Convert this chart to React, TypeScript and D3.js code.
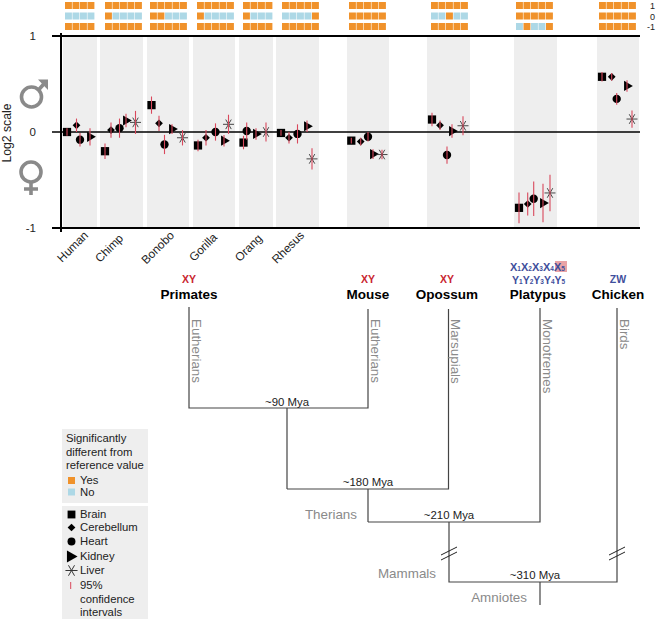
import React from "react";
import * as d3 from "d3";

const species = ["Human", "Chimp", "Bonobo", "Gorilla", "Orang", "Rhesus", "Mouse", "Opossum", "Platypus", "Chicken"];
const tissues = ["Brain", "Cerebellum", "Heart", "Kidney", "Liver"];

// value, horizontal placement, half width of the 95% CI, per species, ordered as tissueOrder
const humanTissues = [0, 1, 2, 3];
const humanValues = [0.0, 0.07, -0.08, -0.05];
const humanPos = [67, 76.5, 80, 90];
const humanCi = [0.04, 0.07, 0.07, 0.09];

const chimpTissues = [0, 1, 2, 3, 4];
const chimpValues = [-0.2, 0.02, 0.04, 0.12, 0.1];
const chimpPos = [105, 111, 119.5, 126, 135.5];
const chimpCi = [0.08, 0.08, 0.1, 0.07, 0.12];

const bonoboTissues = [0, 1, 2, 3, 4];
const bonoboValues = [0.28, 0.09, -0.13, 0.03, -0.06];
const bonoboPos = [151.5, 159, 164.5, 172, 182.5];
const bonoboCi = [0.09, 0.08, 0.1, 0.05, 0.08];

const gorillaTissues = [0, 1, 2, 3, 4];
const gorillaValues = [-0.14, -0.06, 0.0, -0.09, 0.08];
const gorillaPos = [198, 206, 215.5, 224, 228.5];
const gorillaCi = [0.06, 0.08, 0.09, 0.06, 0.1];

const orangTissues = [0, 2, 3, 4];
const orangValues = [-0.11, 0.01, -0.02, 0.0];
const orangPos = [243.5, 246.7, 256, 266];
const orangCi = [0.07, 0.09, 0.06, 0.1];

const rhesusTissues = [0, 1, 2, 3, 4];
const rhesusValues = [-0.01, -0.06, -0.02, 0.06, -0.28];
const rhesusPos = [281, 289, 297.5, 307, 312];
const rhesusCi = [0.03, 0.06, 0.1, 0.06, 0.11];

const mouseTissues = [0, 1, 2, 3, 4];
const mouseValues = [-0.09, -0.1, -0.05, -0.23, -0.235];
const mousePos = [351.3, 360.7, 368, 373, 382];
const mouseCi = [0.03, 0.04, 0.05, 0.05, 0.05];

const opossumTissues = [0, 1, 2, 3, 4];
const opossumValues = [0.13, 0.07, -0.24, 0.01, 0.065];
const opossumPos = [432, 440, 447, 452, 463];
const opossumCi = [0.07, 0.05, 0.09, 0.07, 0.1];

const platypusTissues = [0, 1, 2, 3, 4];
const platypusValues = [-0.79, -0.75, -0.695, -0.74, -0.635];
const platypusPos = [519, 527.7, 533.7, 543, 550];
const platypusCi = [0.16, 0.12, 0.18, 0.2, 0.19];

const chickenTissues = [0, 1, 2, 3, 4];
const chickenValues = [0.575, 0.575, 0.345, 0.48, 0.135];
const chickenPos = [602, 611.7, 616.7, 627, 632];
const chickenCi = [0.05, 0.04, 0.06, 0.06, 0.09];

const tissueRows = [humanTissues, chimpTissues, bonoboTissues, gorillaTissues, orangTissues, rhesusTissues, mouseTissues, opossumTissues, platypusTissues, chickenTissues];
const valueRows = [humanValues, chimpValues, bonoboValues, gorillaValues, orangValues, rhesusValues, mouseValues, opossumValues, platypusValues, chickenValues];
const posRows = [humanPos, chimpPos, bonoboPos, gorillaPos, orangPos, rhesusPos, mousePos, opossumPos, platypusPos, chickenPos];
const ciRows = [humanCi, chimpCi, bonoboCi, gorillaCi, orangCi, rhesusCi, mouseCi, opossumCi, platypusCi, chickenCi];

// significance strips: Y = different from reference, N = not
const sigAtOne = ["YYYY", "YYYYY", "YYYYY", "YYYYY", "YYYY", "YYYYY", "YYYYY", "YYYYY", "YYYYY", "YYYYY"];
const sigAtZero = ["NNNN", "YNNNN", "YYNNN", "YNNNN", "YNNN", "NNNNY", "YYYYY", "NNYNN", "YYYYY", "YYYYY"];
const sigAtMinusOne = ["YYYY", "YYYYY", "YYYYY", "YYYYY", "YYYY", "YYYYY", "YYYYY", "YYYYY", "NYNNY", "YYYYY"];
const sigRows = [sigAtOne, sigAtZero, sigAtMinusOne];
const sigTop = [2, 12.5, 23];
const sigLeft = [65, 105, 150, 197, 243, 282, 349, 431, 516, 599];

const panelLeft = [63, 100, 147, 193, 239, 276, 347, 427, 514, 597];
const panelRight = [97, 143, 189, 235, 273, 319, 389, 470, 557, 639];
const speciesLabelEnd = [89, 124, 175, 218, 263, 305];
const speciesLabelBase = [236, 239, 236, 238, 239, 236];

const yTicks = [1, 0, -1];

const ORANGE = "#f0922b";
const BLUE = "#add8e6";
const RED = "#d9485c";
const GREY = "#8a8a8a";
const PANEL = "#eeeeee";
const FONT = "'Liberation Sans', Arial, sans-serif";

const y = d3.scaleLinear().domain([-1, 1]).range([228, 36]);
const x = d3.scaleLinear().domain([0, 656]).range([0, 656]);

const symbolPaths = [
  d3.symbol(d3.symbolSquare, 68)()!,
  d3.symbol(d3.symbolDiamond2, 38)()!,
  d3.symbol(d3.symbolCircle, 55)()!,
  d3.symbol(d3.symbolTriangle, 45)()!,
  d3.symbol(d3.symbolAsterisk, 85)()!,
];

function Marker({ t, cx, cy, scale = 1 }: { t: number; cx: number; cy: number; scale?: number }) {
  const rot = t === 3 || t === 4 ? 90 : 0;
  const transform = `translate(${cx},${cy}) rotate(${rot}) scale(${scale})`;
  if (t === 4) return <path d={symbolPaths[4]} transform={transform} fill="none" stroke="#333" strokeWidth={0.9} />;
  return <path d={symbolPaths[t]} transform={transform} fill="#000" />;
}

const line = d3.line();

const treeBranches: [number, number][][] = [
  [[189, 307], [189, 408], [368, 408], [368, 309]],
  [[287, 408], [287, 489]],
  [[287, 489], [448.5, 489], [448.5, 309]],
  [[368, 489], [368, 522]],
  [[368, 522], [540, 522], [540, 308]],
  [[449, 522], [449, 582], [617, 582], [617, 308]],
  [[540, 582], [540, 605]],
];
const breakMarks: [number, number][][] = [
  [[441, 555], [457, 547]],
  [[441, 560], [457, 552]],
  [[609, 555], [625, 547]],
  [[609, 560], [625, 552]],
];

const cladeNames = ["Primates", "Mouse", "Opossum", "Platypus", "Chicken"];
const cladeCentres = [189, 368, 447, 538, 618];
const chromosomeLabels = ["XY", "XY", "XY", "", "ZW"];
const chromosomeColors = ["#c9252f", "#c9252f", "#c9252f", "", "#3f4f9c"];

const branchNames = ["Eutherians", "Eutherians", "Marsupials", "Monotremes", "Birds"];
const branchX = [192, 371, 451, 543, 619.5];

const dateLabels = ["~90 Mya", "~180 Mya", "~210 Mya", "~310 Mya"];
const dateX = [287, 368, 449, 535];
const dateY = [405.5, 486, 519, 579];

const groupNames = ["Therians", "Mammals", "Amniotes"];
const groupX = [357, 436, 527];
const groupY = [519, 578, 602];

const legendSigTitle = ["Significantly", "different from", "reference value"];
const legendTissueY = [518, 531, 545, 560, 574];
const legendScale = [0.95, 1, 0.95, 1.2, 1.1];

function Sub({ a, b }: { a: string; b: string }) {
  return (
    <>
      <tspan>{a}</tspan>
      <tspan fontSize={6.5}>{b}</tspan>
    </>
  );
}

export default function App() {
  return (
    <svg width={656} height={620} style={{ position: "absolute", left: 0, top: 0, background: "#fff" }} fontFamily={FONT}>
      {/* significance strips */}
      {sigRows.map((row, r) =>
        row.map((s, i) =>
          s.split("").map((c, j) => (
            <rect key={`${r}-${i}-${j}`} x={sigLeft[i] + j * 7.5} y={sigTop[r]} width={6.9} height={7} fill={c === "Y" ? ORANGE : BLUE} />
          ))
        )
      )}
      {["1", "0", "-1"].map((t, i) => (
        <text key={i} x={655} y={[9, 19.5, 30][i]} textAnchor="end" fontSize={9} fill="#222">{t}</text>
      ))}

      {/* panels */}
      {species.map((s, i) => (
        <rect key={s} x={panelLeft[i]} y={y(1)} width={panelRight[i] - panelLeft[i]} height={y(-1) - y(1)} fill={PANEL} />
      ))}

      {/* axes */}
      {yTicks.map((t) => (
        <g key={t}>
          <line x1={52} x2={640} y1={y(t)} y2={y(t)} stroke="#000" strokeWidth={t === 0 ? 1.6 : 2} />
          <text x={36} y={y(t) + 4} textAnchor="end" fontSize={11.5} fill="#222">{t}</text>
        </g>
      ))}
      <line x1={61} x2={61} y1={33} y2={232} stroke="#000" strokeWidth={2} />

      <text transform="translate(11,133) rotate(-90)" textAnchor="middle" fontSize={12.2} fill="#222">Log2 scale</text>

      {/* male */}
      <g fill="none" stroke={GREY} strokeWidth={3.6}>
        <circle cx={31.5} cy={97} r={10} />
        <path d="M38.5,90 L46,81.5" />
      </g>
      <path d="M38,79.5 H48 V90 Z" fill={GREY} />
      {/* female */}
      <g fill="none" stroke={GREY} strokeWidth={3.6}>
        <circle cx={31} cy={172} r={10} />
        <path d="M31,182 V195 M24,189 H38" />
      </g>

      {/* points */}
      {species.map((s, i) =>
        valueRows[i].map((v, j) => (
          <Marker key={`${s}-m-${j}`} t={tissueRows[i][j]} cx={x(posRows[i][j])} cy={y(v)} />
        ))
      )}
      {species.map((s, i) =>
        valueRows[i].map((v, j) => (
          <line key={`${s}-c-${j}`} x1={x(posRows[i][j])} x2={x(posRows[i][j])} y1={y(v + ciRows[i][j])} y2={y(v - ciRows[i][j])} stroke={RED} strokeWidth={1.1} />
        ))
      )}

      {/* species labels */}
      {speciesLabelEnd.map((e, i) => (
        <text key={i} transform={`translate(${e},${speciesLabelBase[i]}) rotate(-45)`} textAnchor="end" fontSize={11.8} fill="#222">{species[i]}</text>
      ))}

      {/* tree */}
      {treeBranches.map((b, i) => (
        <path key={i} d={line(b)!} fill="none" stroke="#444" strokeWidth={1.2} />
      ))}
      {breakMarks.map((b, i) => (
        <path key={i} d={line(b)!} fill="none" stroke="#222" strokeWidth={1} />
      ))}
      {cladeNames.map((n, i) => (
        <text key={n} x={cladeCentres[i]} y={299} textAnchor="middle" fontSize={13.5} fontWeight="bold" fill="#000">{n}</text>
      ))}
      {chromosomeLabels.map((n, i) => n && (
        <text key={i} x={cladeCentres[i]} y={283} textAnchor="middle" fontSize={10.5} fontWeight="bold" fill={chromosomeColors[i]}>{n}</text>
      ))}
      <rect x={555} y={261} width={12} height={11} fill="#e9a3a6" />
      <text x={510} y={271} fontSize={11} fontWeight="bold" fill="#3f4f9c">
        <Sub a="X" b="1" /><Sub a="X" b="2" /><Sub a="X" b="3" /><Sub a="X" b="4" /><Sub a="X" b="5" />
      </text>
      <text x={512} y={284} fontSize={10.5} fontWeight="bold" fill="#3f4f9c">
        <Sub a="Y" b="1" /><Sub a="Y" b="2" /><Sub a="Y" b="3" /><Sub a="Y" b="4" /><Sub a="Y" b="5" />
      </text>
      {branchNames.map((n, i) => (
        <text key={i} transform={`translate(${branchX[i]},319) rotate(90)`} fontSize={13.4} fill={GREY}>{n}</text>
      ))}
      {dateLabels.map((n, i) => (
        <text key={n} x={dateX[i]} y={dateY[i]} textAnchor="middle" fontSize={11.4} fill="#222">{n}</text>
      ))}
      {groupNames.map((n, i) => (
        <text key={n} x={groupX[i]} y={groupY[i]} textAnchor="end" fontSize={13.4} fill={GREY}>{n}</text>
      ))}

      {/* legend */}
      <rect x={62} y={429} width={86} height={74} fill={PANEL} />
      {legendSigTitle.map((t, i) => (
        <text key={t} x={66} y={442 + i * 13.7} fontSize={11.3} fill="#222">{t}</text>
      ))}
      <rect x={68} y={477} width={7} height={7} fill={ORANGE} />
      <rect x={68} y={488.5} width={7} height={7} fill={BLUE} />
      <text x={80} y={484} fontSize={11.3} fill="#222">Yes</text>
      <text x={80} y={496} fontSize={11.3} fill="#222">No</text>

      <rect x={62} y={506} width={86} height={113} fill={PANEL} />
      {tissues.map((t, i) => (
        <g key={t}>
          <Marker t={i} cx={i === 3 ? 70.5 : 71.5} cy={legendTissueY[i] - 3.5} scale={legendScale[i]} />
          <text x={80} y={legendTissueY[i]} fontSize={11.3} fill="#222">{t}</text>
        </g>
      ))}
      <line x1={70.7} x2={70.7} y1={582} y2={589} stroke={RED} strokeWidth={1} />
      {["95%", "confidence", "intervals"].map((t, i) => (
        <text key={t} x={80} y={589 + i * 13.7} fontSize={11.3} fill="#222">{t}</text>
      ))}
    </svg>
  );
}
